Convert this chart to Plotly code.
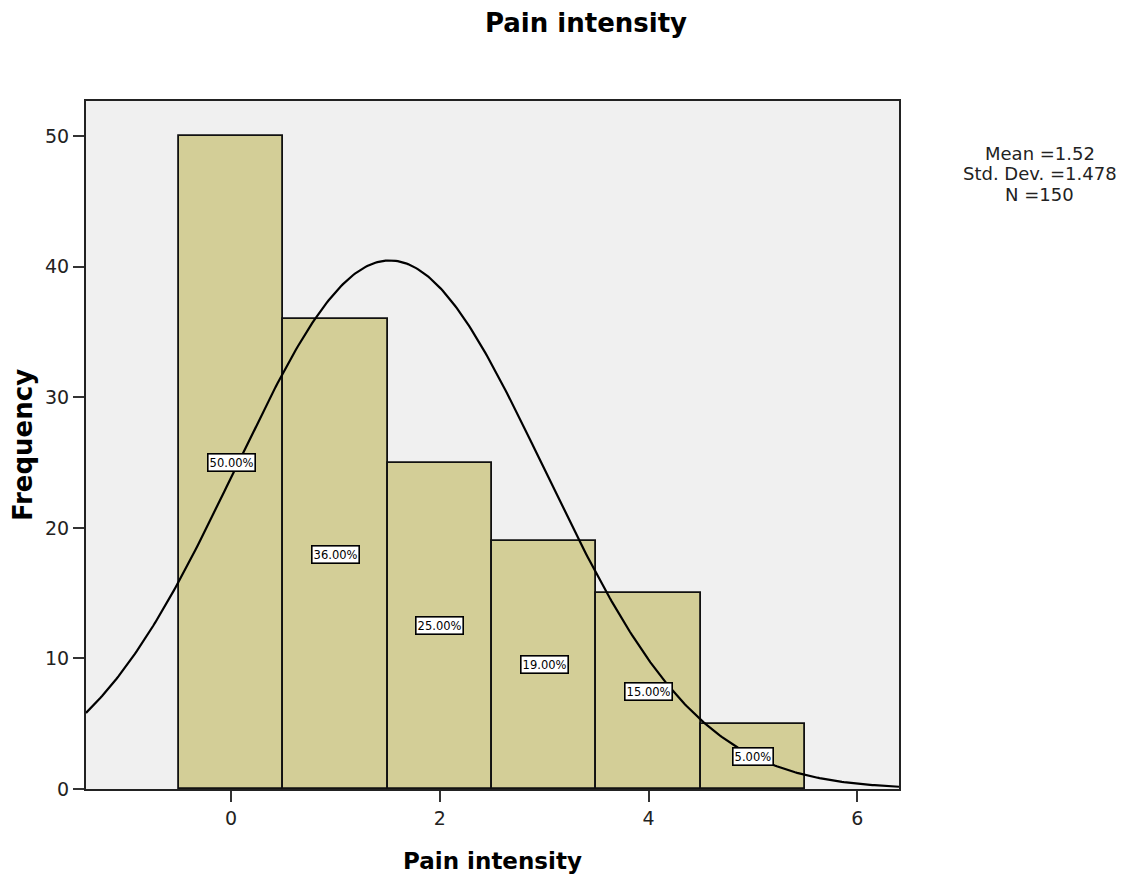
import numpy as np
import plotly.graph_objects as go

# Data
categories = [0, 1, 2, 3, 4, 5]
frequencies = [50, 36, 25, 19, 15, 5]
pct_labels = ["50.00%", "36.00%", "25.00%", "19.00%", "15.00%", "5.00%"]
MEAN = 1.52
SD = 1.478
N = 150
stats_lines = ["Mean =1.52", "Std. Dev. =1.478", "N =150"]
x_ticks = [0, 2, 4, 6]
y_ticks = [0, 10, 20, 30, 40, 50]

x_range = [-1.39, 6.40]
y_range = [0, 52.7]

FONT = "DejaVu Sans"

fig = go.Figure()

fig.add_trace(go.Bar(
    x=categories, y=frequencies, width=1.0,
    marker=dict(color="#d3ce97", line=dict(color="#111111", width=1.8)),
    showlegend=False, hoverinfo="x+y",
))

# Normal curve implied by the stated mean, SD and N (bin width 1)
xc = np.linspace(x_range[0], x_range[1], 400)
yc = N * 1.0 / (SD * np.sqrt(2 * np.pi)) * np.exp(-0.5 * ((xc - MEAN) / SD) ** 2)
fig.add_trace(go.Scatter(x=xc, y=yc, mode="lines",
                         line=dict(color="#000000", width=2.2), showlegend=False,
                         hoverinfo="skip"))

for c, f, lab in zip(categories, frequencies, pct_labels):
    fig.add_annotation(x=c, y=f / 2, text=lab, showarrow=False,
                       font=dict(family=FONT, size=11.5, color="#000"),
                       bgcolor="#ffffff", bordercolor="#000000", borderwidth=1.6,
                       borderpad=1)

for line, yp in zip(stats_lines, [0.9244, 0.8953, 0.8648]):
    fig.add_annotation(xref="paper", yref="paper", x=1.1734, y=yp, text=line,
                       showarrow=False, xanchor="center", yanchor="middle",
                       font=dict(family=FONT, size=18, color="#222"))

fig.update_layout(
    width=1110, height=866,
    margin=dict(l=78, r=219, t=93, b=85),
    paper_bgcolor="#ffffff", plot_bgcolor="#f0f0f0",
    bargap=0,
    title=dict(text="<b>Pain intensity</b>", x=0.615, xref="paper", xanchor="center",
               yref="container", y=0.983, yanchor="middle",
               font=dict(family=FONT, size=26, color="#000")),
    font=dict(family=FONT, color="#222"),
)
fig.update_xaxes(range=x_range, tickvals=x_ticks, ticks="outside", ticklen=11,
                 tickwidth=2, tickcolor="#333", showgrid=False, zeroline=False,
                 showline=True, linecolor="#222", linewidth=2, mirror=True,
                 automargin=False,
                 tickfont=dict(family=FONT, size=19, color="#222"),
                 title=dict(text="<b>Pain intensity</b>", standoff=26,
                            font=dict(family=FONT, size=23, color="#000")))
fig.update_yaxes(range=y_range, tickvals=y_ticks, ticks="outside", ticklen=11,
                 tickwidth=2, tickcolor="#333", showgrid=False, zeroline=False,
                 showline=True, linecolor="#222", linewidth=2, mirror=True,
                 automargin=False,
                 tickfont=dict(family=FONT, size=19, color="#222"),
                 title=dict(text="<b>Frequency</b>", standoff=10,
                            font=dict(family=FONT, size=26, color="#000")))

fig.write_html("out.html")
